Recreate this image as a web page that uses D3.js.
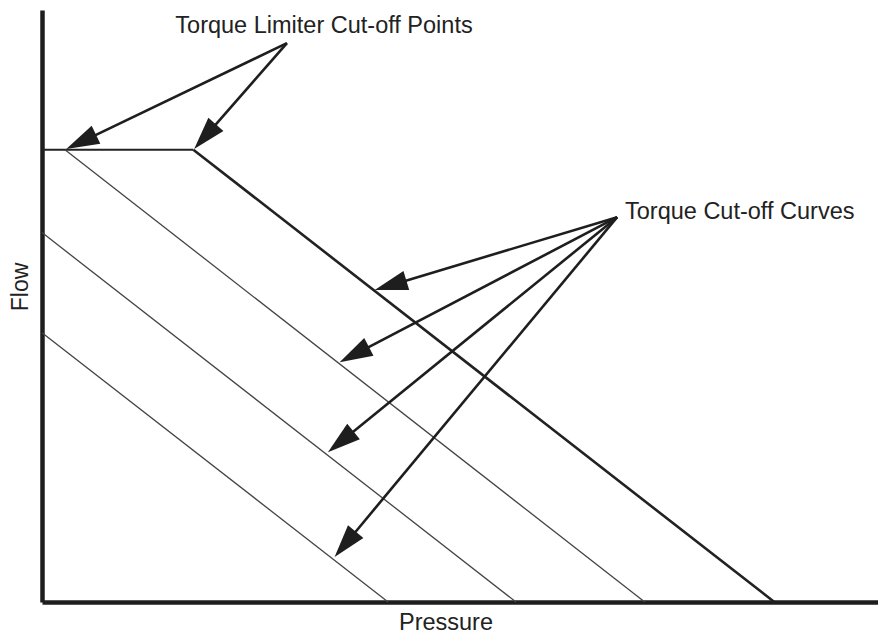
<!DOCTYPE html>
<html>
<head>
<meta charset="utf-8">
<script src="https://cdn.jsdelivr.net/npm/d3@7"></script>
<style>
  body { margin: 0; background: #fff; }
  text { font-family: "Liberation Sans", Arial, sans-serif; fill: #222; }
</style>
</head>
<body>
<div id="chart"></div>
<script>
// pressure / flow in relative units (0-100)
const limiterLine = [[0, 76.4], [18.1, 76.4]];
const mainCurve   = [[18.1, 76.4], [87.6, 0]];
const thinCurves  = [
  [[2.75, 76.4], [72.1, 0]],
  [[0, 62.4], [56.7, 0]],
  [[0, 45.5], [41.4, 0]]
];

const limiterLabel = "Torque Limiter Cut-off Points";
const limiterFrom  = [29.3, 94.4];
const limiterTips  = [[2.9, 76.5], [18.2, 76.5]];

const curvesLabel = "Torque Cut-off Curves";
const curvesFrom  = [68.8, 65.0];
const curvesTips  = [[39.8, 52.7], [35.6, 40.5], [34.2, 25.3], [35.0, 7.6]];

const width = 878, height = 636;
const svg = d3.select("#chart").append("svg").attr("width", width).attr("height", height);

const x = d3.scaleLinear().domain([0, 100]).range([42, 878]);
const y = d3.scaleLinear().domain([0, 100]).range([602, 10]);
const line = d3.line().x(d => x(d[0])).y(d => y(d[1]));

// axes, no ticks
svg.append("g").attr("transform", "translate(42,0)")
  .call(d3.axisLeft(y).ticks(0).tickSizeOuter(0))
  .call(g => g.select(".domain").attr("stroke", "#1e1e1e").attr("stroke-width", 4.5));
svg.append("g").attr("transform", "translate(0,602)")
  .call(d3.axisBottom(x).ticks(0).tickSizeOuter(0))
  .call(g => g.select(".domain").attr("stroke", "#1e1e1e").attr("stroke-width", 4.5));

svg.append("path").attr("d", line(limiterLine))
  .attr("fill", "none").attr("stroke", "#222").attr("stroke-width", 2);
svg.append("path").attr("d", line(mainCurve))
  .attr("fill", "none").attr("stroke", "#222").attr("stroke-width", 2.6);
svg.selectAll(".thin").data(thinCurves).enter().append("path")
  .attr("class", "thin").attr("d", d => line(d))
  .attr("fill", "none").attr("stroke", "#444").attr("stroke-width", 1.3);

function arrow(from, to) {
  const x0 = x(from[0]), y0 = y(from[1]), x1 = x(to[0]), y1 = y(to[1]);
  const dx = x1 - x0, dy = y1 - y0, len = Math.hypot(dx, dy);
  const ux = dx / len, uy = dy / len, L = 33, W = 10;
  const bx = x1 - ux * L, by = y1 - uy * L;
  svg.append("line").attr("x1", x0).attr("y1", y0)
    .attr("x2", bx + ux * 4).attr("y2", by + uy * 4)
    .attr("stroke", "#1e1e1e").attr("stroke-width", 2.6);
  svg.append("path")
    .attr("d", `M${x1},${y1}L${bx - uy * W},${by + ux * W}L${bx + uy * W},${by - ux * W}Z`)
    .attr("fill", "#1e1e1e");
}
limiterTips.forEach(t => arrow(limiterFrom, t));
curvesTips.forEach(t => arrow(curvesFrom, t));

svg.append("text").attr("x", 324).attr("y", 33).attr("text-anchor", "middle")
  .attr("font-size", 23.5).text(limiterLabel);
svg.append("text").attr("x", 625).attr("y", 219)
  .attr("font-size", 23.5).text(curvesLabel);
svg.append("text").attr("x", 446).attr("y", 630).attr("text-anchor", "middle")
  .attr("font-size", 23.5).text("Pressure");
svg.append("text").attr("transform", "translate(28,287) rotate(-90)").attr("text-anchor", "middle")
  .attr("font-size", 23).text("Flow");
</script>
</body>
</html>
